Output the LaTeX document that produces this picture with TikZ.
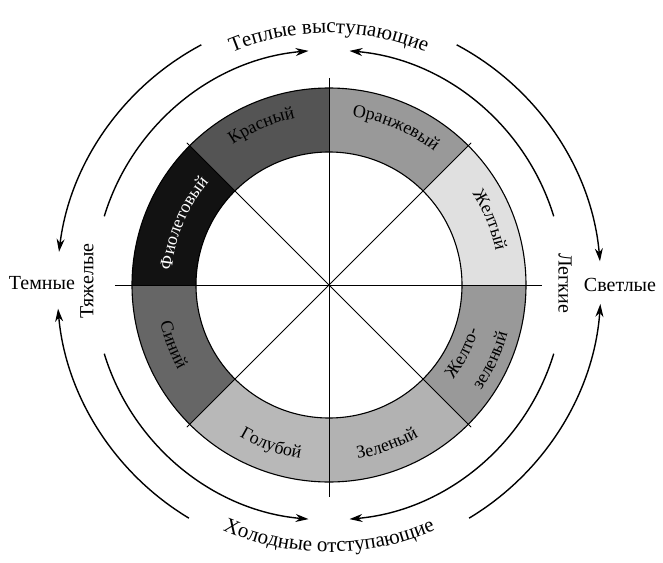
\documentclass[tikz,border=0pt]{standalone}
\usepackage{fontspec}
\setmainfont{Liberation Serif}
\usetikzlibrary{decorations.text,arrows.meta}
\newcommand{\segfont}{\fontsize{18}{20}\selectfont}
\newcommand{\capfont}{\fontsize{20}{22}\selectfont}
\newcommand{\arcfont}{\fontsize{21}{23}\selectfont}
\definecolor{cRed}{gray}{0.33}
\definecolor{cOrange}{gray}{0.60}
\definecolor{cYellow}{gray}{0.88}
\definecolor{cYGreen}{gray}{0.60}
\definecolor{cGreen}{gray}{0.70}
\definecolor{cLBlue}{gray}{0.72}
\definecolor{cBlue}{gray}{0.40}
\definecolor{cViolet}{gray}{0.07}
\begin{document}
\begin{tikzpicture}[x=1pt,y=1pt,
  rim/.style={draw=black,line width=1.1pt},
  spoke/.style={draw=black,line width=0.9pt},
  sweep/.style={draw=black,line width=1.4pt,-{Stealth[length=13pt,width=8pt]}},
  caption/.style={font=\capfont,inner sep=0pt},
]
\useasboundingbox (-329,-277) rectangle (334,285);
\def\Ro{197}
\def\Ri{133}
% colour segments of the ring
\foreach \a/\c in {90/cRed,45/cOrange,0/cYellow,-45/cYGreen,-90/cGreen,-135/cLBlue,180/cBlue,135/cViolet}{
  \fill[\c] (\a:\Ri) arc[start angle=\a,delta angle=45,radius=\Ri]
    -- ({\a+45}:\Ro) arc[start angle={\a+45},delta angle=-45,radius=\Ro] -- cycle;
}
\draw[rim] (0,0) circle[radius=\Ro];
\draw[rim] (0,0) circle[radius=\Ri];
% spokes
\draw[spoke] (180:214) -- (0:213);
\draw[spoke] (90:207) -- (270:212);
\draw[spoke] (135:201) -- (-45:201);
\draw[spoke] (45:201) -- (225:201);
% segment names, top half (letters pointing outward)
\path[decorate,decoration={text along path,text align=center,text={|\segfont|Красный}}]
  (153:170) arc[start angle=153,end angle=73,radius=170];
\path[decorate,decoration={text along path,text align=center,text={|\segfont|Оранжевый}}]
  (107:170) arc[start angle=107,end angle=27,radius=170];
\path[decorate,decoration={text along path,text align=center,text={|\segfont|Желтый}}]
  (62:170) arc[start angle=62,end angle=-18,radius=170];
\path[decorate,decoration={text along path,text align=center,text={|\segfont\color{white}|Фиолетовый}}]
  (197:158) arc[start angle=197,end angle=117,radius=158];
% segment names, bottom half (letters pointing inward)
\path[decorate,decoration={text along path,text align=center,text={|\segfont|Синий}}]
  (161:173) arc[start angle=161,end angle=241,radius=173];
\path[decorate,decoration={text along path,text align=center,text={|\segfont|Голубой}}]
  (210:176) arc[start angle=210,end angle=290,radius=176];
\path[decorate,decoration={text along path,text align=center,text={|\segfont|Зеленый}}]
  (250:176) arc[start angle=250,end angle=330,radius=176];
\path[decorate,decoration={text along path,text align=center,text={|\segfont|Желто-}}]
  (-67:156) arc[start angle=-67,end angle=13,radius=156];
\path[decorate,decoration={text along path,text align=center,text={|\segfont|зеленый}}]
  (-65:185) arc[start angle=-65,end angle=15,radius=185];
% inner sweeps toward warm / cold
\draw[sweep] (163:235) arc[start angle=163,end angle=95,radius=235];
\draw[sweep] (17:235) arc[start angle=17,end angle=85,radius=235];
\draw[sweep] (197:235) arc[start angle=197,end angle=265,radius=235];
\draw[sweep] (-17:235) arc[start angle=-17,end angle=-85,radius=235];
% outer sweeps toward dark / light
\draw[sweep] (118:272) arc[start angle=118,end angle=173,radius=272];
\draw[sweep] (239:272) arc[start angle=239,end angle=185,radius=272];
\draw[sweep] (62:272) arc[start angle=62,end angle=5,radius=272];
\draw[sweep] (-59:272) arc[start angle=-59,end angle=-4,radius=272];
% captions
\node[caption] (dark) at (-287,2) {Темные};
\node[caption] (light) at (291,0) {Светлые};
\node[caption,rotate=90] (heavy) at (-242,4) {Тяжелые};
\node[caption,rotate=-90] (easy) at (236,2) {Легкие};
\path[decorate,decoration={text along path,text align=center,text={|\arcfont|Теплые выступающие}}]
  (135:252) arc[start angle=135,end angle=45,radius=252];
\path[decorate,decoration={text along path,text align=center,text={|\arcfont|Холодные отступающие}}]
  (225:267) arc[start angle=225,end angle=315,radius=267];
\end{tikzpicture}
\end{document}
